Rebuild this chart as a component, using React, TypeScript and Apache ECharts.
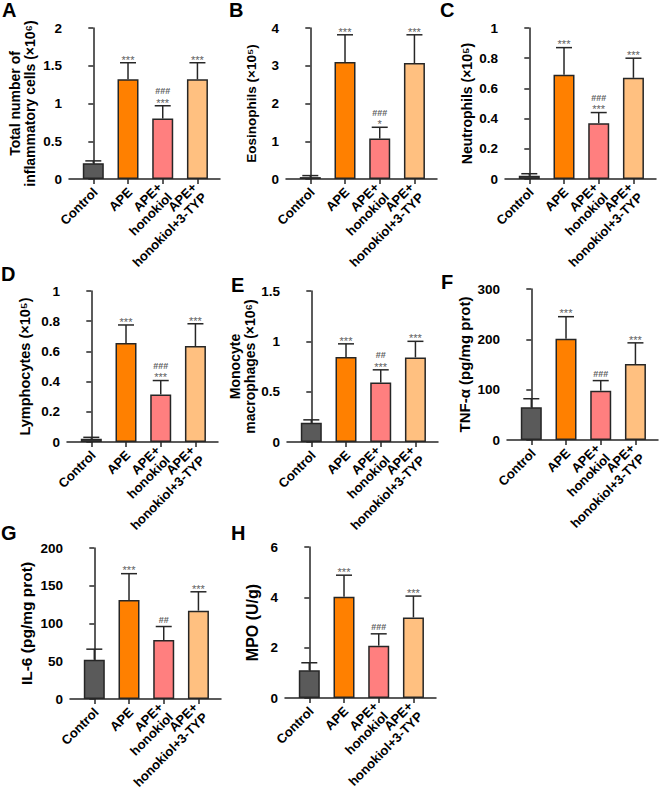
import React, { useEffect, useRef } from "react";
import * as echarts from "echarts";

const FONT = "'Liberation Sans', Arial, Helvetica, sans-serif";

const categories = ["Control", "APE", "APE+\nhonokiol", "APE+\nhonokiol+3-TYP"];
const barColors = ["#5a5a5a", "#ff8000", "#ff7f7f", "#ffc080"];

// A: Total inflammatory cells (x10^6)
const totalMean = [0.21, 1.32, 0.8, 1.32];
const totalSD = [0.03, 0.22, 0.17, 0.22];
const totalSig = ["", "***", "###\n***", "***"];
// B: Eosinophils (x10^5)
const eosMean = [0.05, 3.1, 1.07, 3.07];
const eosSD = [0.04, 0.72, 0.3, 0.75];
const eosSig = ["", "***", "###\n*", "***"];
// C: Neutrophils (x10^5)
const neuMean = [0.022, 0.69, 0.37, 0.67];
const neuSD = [0.013, 0.18, 0.07, 0.13];
const neuSig = ["", "***", "###\n***", "***"];
// D: Lymphocytes (x10^5)
const lymMean = [0.022, 0.655, 0.315, 0.635];
const lymSD = [0.009, 0.12, 0.092, 0.148];
const lymSig = ["", "***", "###\n***", "***"];
// E: Monocyte macrophages (x10^6)
const monoMean = [0.19, 0.845, 0.59, 0.84];
const monoSD = [0.03, 0.13, 0.127, 0.16];
const monoSig = ["", "***", "##\n***", "***"];
// F: TNF-a
const tnfMean = [65, 201, 98, 151];
const tnfSD = [17, 44, 20, 42];
const tnfSig = ["", "***", "###", "***"];
// G: IL-6
const il6Mean = [52, 131, 78, 117];
const il6SD = [14, 35, 18, 25];
const il6Sig = ["", "***", "##", "***"];
// H: MPO
const mpoMean = [1.1, 4.02, 2.08, 3.2];
const mpoSD = [0.3, 0.86, 0.47, 0.85];
const mpoSig = ["", "***", "###", "***"];

const yMaxes = [2, 4, 1, 1, 1.5, 300, 200, 6];
const yIntervals = [0.5, 1, 0.2, 0.2, 0.5, 100, 50, 2];
const yNames = [
  "Total number of\ninflammatory cells (×10⁶)",
  "Eosinophils (×10⁵)",
  "Neutrophils (×10⁵)",
  "Lymphocytes (×10⁵)",
  "Monocyte\nmacrophages (×10⁶)",
  "TNF-α (pg/mg prot)",
  "IL-6 (pg/mg prot)",
  "MPO (U/g)",
];
const panelLetters = ["A", "B", "C", "D", "E", "F", "G", "H"];

const means = [totalMean, eosMean, neuMean, lymMean, monoMean, tnfMean, il6Mean, mpoMean];
const sds = [totalSD, eosSD, neuSD, lymSD, monoSD, tnfSD, il6SD, mpoSD];
const sigs = [totalSig, eosSig, neuSig, lymSig, monoSig, tnfSig, il6Sig, mpoSig];

// layout (pixels)
const gridLeft = [69, 286, 505, 67, 287, 507, 70, 285];
const gridTop = [28, 28, 28, 291, 291, 289, 548, 547];
const gridW = 151;
const gridH = 151;
const nameGaps = [32, 27, 31, 34, 30, 35, 35, 24];
const nameSizes = [14, 13.5, 14, 14.5, 14, 15, 15.5, 16];
const letterPos = [
  [2, 0],
  [229, 0],
  [440, 0],
  [1, 264],
  [231, 275],
  [441, 272],
  [1, 523],
  [231, 523],
];

const AX = "#262626";
const LBL_SIZE = 13;
const LBL_LH = 14;
const S45 = Math.SQRT1_2;

export default function App() {
  const ref = useRef<HTMLDivElement>(null);
  useEffect(() => {
    if (!ref.current) return;
    const chart = echarts.init(ref.current, undefined, { renderer: "svg" });
    const grid: any[] = [];
    const xAxis: any[] = [];
    const yAxis: any[] = [];
    const series: any[] = [];
    for (let p = 0; p < 8; p++) {
      grid.push({ left: gridLeft[p], top: gridTop[p], width: gridW, height: gridH, containLabel: false });
      xAxis.push({
        gridIndex: p,
        type: "value",
        min: -0.7,
        max: 3.65,
        axisLine: { show: true, onZero: false, lineStyle: { color: AX, width: 1.5 } },
        axisTick: { show: true, customValues: [0, 1, 2, 3], length: 5, lineStyle: { color: AX, width: 1.5 } },
        axisLabel: { show: false },
        splitLine: { show: false },
      });
      yAxis.push({
        gridIndex: p,
        type: "value",
        min: 0,
        max: yMaxes[p],
        interval: yIntervals[p],
        axisLine: { show: true, lineStyle: { color: AX, width: 1.5 } },
        axisTick: { show: true, length: 5, lineStyle: { color: AX, width: 1.5 } },
        axisLabel: {
          fontSize: 13.5,
          fontWeight: "bold",
          color: "#000",
          fontFamily: FONT,
          margin: 7,
          showMinLabel: true,
          showMaxLabel: true,
        },
        splitLine: { show: false },
        name: yNames[p],
        nameLocation: "middle",
        nameGap: nameGaps[p],
        nameTextStyle: {
          fontSize: nameSizes[p],
          fontWeight: "bold",
          color: "#000",
          fontFamily: FONT,
          lineHeight: nameSizes[p] + 1,
        },
      });
      const m = means[p];
      series.push({
        type: "bar",
        xAxisIndex: p,
        yAxisIndex: p,
        barWidth: 21,
        data: m.map((v, i) => ({ value: [i, v], itemStyle: { color: barColors[i] } })),
        itemStyle: { borderColor: AX, borderWidth: 1.5 },
        z: 2,
      });
      const sd = sds[p];
      const sg = sigs[p];
      series.push({
        type: "custom",
        xAxisIndex: p,
        yAxisIndex: p,
        z: 5,
        data: m.map((v, i) => [i, v, sd[i]]),
        renderItem: (params: any, api: any) => {
          const i = api.value(0);
          const mv = api.value(1);
          const s = api.value(2);
          const b = api.coord([i, mv]);
          const t = api.coord([i, mv + s]);
          const children: any[] = [
            { type: "line", shape: { x1: b[0], y1: b[1], x2: t[0], y2: t[1] }, style: { stroke: AX, lineWidth: 1.5 } },
            { type: "line", shape: { x1: t[0] - 8, y1: t[1], x2: t[0] + 8, y2: t[1] }, style: { stroke: AX, lineWidth: 1.5 } },
          ];
          const sig = sg[params.dataIndex];
          if (sig) {
            const lines = sig.split("\n").reverse();
            let cy = t[1] - 6;
            lines.forEach((ln: string, k: number) => {
              const isStar = ln.indexOf("*") >= 0;
              const fs = isStar ? 11 : 9;
              const c = k === 0 ? (isStar ? cy : cy - 1) : cy;
              children.push({
                type: "text",
                x: t[0],
                y: isStar ? c + 2.8 : c,
                style: {
                  text: ln,
                  fill: "#606060",
                  fontSize: fs,
                  fontFamily: FONT,
                  fontWeight: isStar ? "normal" : "bold",
                  align: "center",
                  verticalAlign: "middle",
                },
              });
              cy = c - 8.5;
            });
          }
          return { type: "group", children };
        },
      });
      // category labels, rotated 45°, one text element per line
      series.push({
        type: "custom",
        xAxisIndex: p,
        yAxisIndex: p,
        z: 6,
        clip: false,
        data: categories.map((c, i) => [i, 0]),
        renderItem: (params: any, api: any) => {
          const pt = api.coord([api.value(0), 0]);
          const ax = pt[0] + 2;
          const ay = pt[1] + 11;
          const lines = categories[params.dataIndex].split("\n");
          const n = lines.length;
          const children: any[] = lines.map((ln: string, j: number) => {
            const dy = (j - (n - 1) / 2) * LBL_LH;
            return {
              type: "text",
              x: ax + dy * S45,
              y: ay + dy * S45,
              rotation: Math.PI / 4,
              style: {
                text: ln,
                fill: "#000",
                fontSize: LBL_SIZE,
                fontWeight: "bold",
                fontFamily: FONT,
                align: "right",
                verticalAlign: "middle",
              },
            };
          });
          return { type: "group", children };
        },
      });
    }
    const graphic = panelLetters.map((l, i) => ({
      type: "text",
      left: letterPos[i][0],
      top: letterPos[i][1],
      style: { text: l, fontSize: 20, fontWeight: "bold", fill: "#000", fontFamily: FONT },
    }));
    chart.setOption({
      animation: false,
      backgroundColor: "#ffffff",
      grid,
      xAxis,
      yAxis,
      series,
      graphic,
    });
    return () => chart.dispose();
  }, []);
  return <div ref={ref} style={{ position: "absolute", left: 0, top: 0, width: 661, height: 795 }} />;
}
